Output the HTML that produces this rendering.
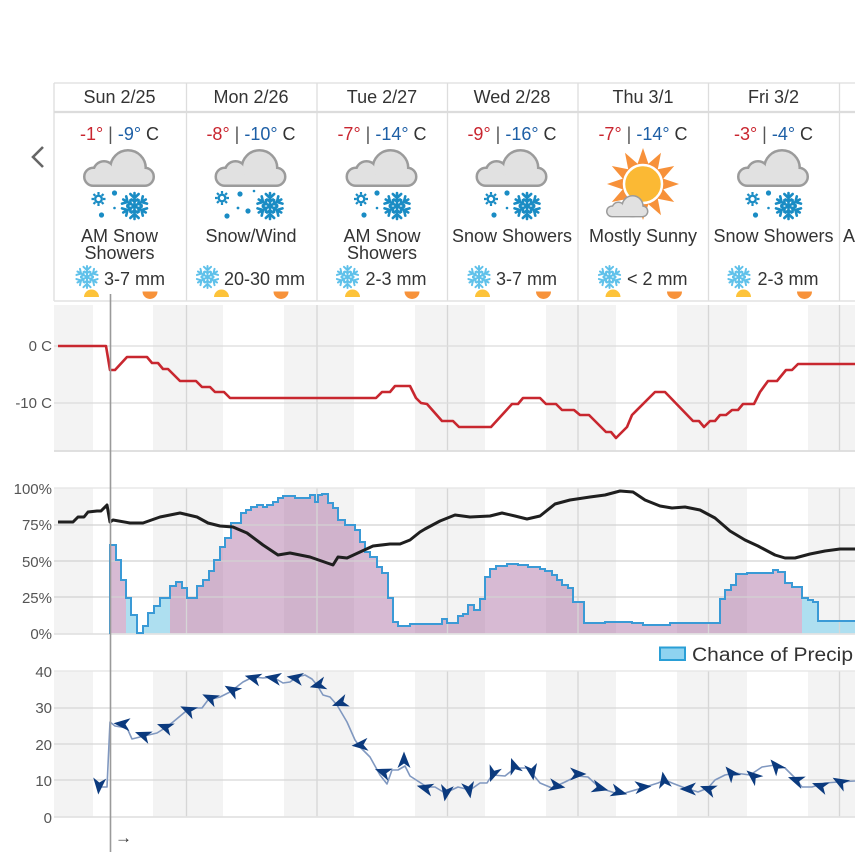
<!DOCTYPE html>
<html><head><meta charset="utf-8"><style>
html,body{margin:0;padding:0;background:#fff;}
svg{display:block;font-family:"Liberation Sans",Arial,sans-serif;}
</style></head><body>
<svg width="855" height="859" viewBox="0 0 855 859" xmlns="http://www.w3.org/2000/svg">
<defs>
<g id="cloud">
 <g stroke="#9b9b9b" stroke-width="5" fill="#9b9b9b">
  <rect x="2.5" y="20" width="67" height="15.5" rx="7.75"/>
  <circle cx="45" cy="19" r="16.5"/>
  <circle cx="21" cy="23" r="9.5"/>
 </g>
 <g fill="#e1e1e1">
  <rect x="2.5" y="20" width="67" height="15.5" rx="7.75"/>
  <circle cx="45" cy="19" r="16.5"/>
  <circle cx="21" cy="23" r="9.5"/>
 </g>
</g>
<g id="arm"><path d="M0,0 V-13 M-4.2,-12 L0,-8 L4.2,-12 M-3,-6.5 L0,-4.5 L3,-6.5" fill="none" stroke-linecap="round" stroke-linejoin="round"/></g>
<g id="sf">
 <use href="#arm"/>
 <use href="#arm" transform="rotate(60)"/>
 <use href="#arm" transform="rotate(120)"/>
 <use href="#arm" transform="rotate(180)"/>
 <use href="#arm" transform="rotate(240)"/>
 <use href="#arm" transform="rotate(300)"/>
</g>
<g id="gear" fill="none">
 <circle r="3.3" stroke-width="2.3"/>
 <path d="M0,-4.5V-7 M0,4.5V7 M-4.5,0H-7 M4.5,0H7 M3.2,3.2L5,5 M-3.2,3.2L-5,5 M3.2,-3.2L5,-5 M-3.2,-3.2L-5,-5" stroke-width="2.2"/>
</g>
<g id="snowicon">
 <use href="#gear" stroke="#1a8cc4" x="-21" y="-7"/>
 <circle cx="-5" cy="-13" r="2.6" fill="#1a8cc4"/>
 <circle cx="-5" cy="2" r="1.3" fill="#1a8cc4"/>
 <circle cx="-18" cy="9" r="2.6" fill="#1a8cc4"/>
 <use href="#sf" stroke="#1a8cc4" stroke-width="2.6" x="15" y="0"/>
</g>
<g id="mk"><path d="M8.5,0 L-8,-6.5 L-3.5,0 L-8,6.5 Z" fill="#0b3a7e"/></g>
<clipPath id="pclip"><path d="M110,634 V545 H116 V560 H121 V580 H126 V598 H131 V615 H137 V633 H143 V626 H148 V613 H154 V606 H160 V598 H170 V586 H176 V582 H182 V588 H187 V598 H197 V586 H203 V580 H209 V571 H214 V560 H220 V547 H225 V538 H231 V523 H241 V513 H246 V510 H251 V507 H257 V505 H263 V507 H267 V505 H273 V502 H278 V498 H283 V496 H295 V498 H310 V495 H315 V502 H318 V495 H322 V494 H328 V503 H333 V508 H338 V520 H345 V525 H355 V530 H360 V542 H365 V552 H370 V557 H377 V567 H382 V573 H388 V598 H393 V622 H398 V626 H410 V624 H442 V619 H447 V623 H458 V616 H463 V614 H468 V605 H474 V610 H480 V599 H485 V577 H490 V569 H496 V566 H507 V564 H518 V565 H528 V567 H540 V569 H545 V571 H552 V575 H557 V580 H562 V585 H568 V588 H573 V602 H584 V623 H605 V622 H632 V623 H643 V625 H670 V623 H720 V599 H725 V590 H731 V585 H736 V574 H747 V573 H773 V570 H778 V572 H785 V583 H792 V587 H802 V598 H808 V600 H813 V602 H818 V621 H855 V634 Z"/></clipPath>
</defs>

<!-- ===== Header table ===== -->
<g stroke="#dddddd" stroke-width="1.3">
 <line x1="54" y1="83" x2="855" y2="83"/>
 <line x1="54" y1="83" x2="54" y2="301"/>
 <line x1="186.5" y1="83" x2="186.5" y2="301"/>
 <line x1="317" y1="83" x2="317" y2="301"/>
 <line x1="447.5" y1="83" x2="447.5" y2="301"/>
 <line x1="578" y1="83" x2="578" y2="301"/>
 <line x1="708.5" y1="83" x2="708.5" y2="301"/>
 <line x1="839.5" y1="83" x2="839.5" y2="301"/>
</g>
<line x1="54" y1="112" x2="855" y2="112" stroke="#dcdcdc" stroke-width="2.2"/>
<line x1="54" y1="301" x2="855" y2="301" stroke="#e2e2e2" stroke-width="1.6"/>
<polyline points="43,147 33,157 43,167" fill="none" stroke="#666" stroke-width="2.6"/>

<g font-size="18" fill="#333" text-anchor="middle">
 <text x="119.5" y="103">Sun 2/25</text>
 <text x="251" y="103">Mon 2/26</text>
 <text x="382" y="103">Tue 2/27</text>
 <text x="512" y="103">Wed 2/28</text>
 <text x="643" y="103">Thu 3/1</text>
 <text x="773.5" y="103">Fri 3/2</text>

 <text x="119.5" y="140"><tspan fill="#c9252f">-1°</tspan><tspan fill="#555"> | </tspan><tspan fill="#1d5fa6">-9°</tspan><tspan fill="#333"> C</tspan></text>
 <text x="251" y="140"><tspan fill="#c9252f">-8°</tspan><tspan fill="#555"> | </tspan><tspan fill="#1d5fa6">-10°</tspan><tspan fill="#333"> C</tspan></text>
 <text x="382" y="140"><tspan fill="#c9252f">-7°</tspan><tspan fill="#555"> | </tspan><tspan fill="#1d5fa6">-14°</tspan><tspan fill="#333"> C</tspan></text>
 <text x="512" y="140"><tspan fill="#c9252f">-9°</tspan><tspan fill="#555"> | </tspan><tspan fill="#1d5fa6">-16°</tspan><tspan fill="#333"> C</tspan></text>
 <text x="643" y="140"><tspan fill="#c9252f">-7°</tspan><tspan fill="#555"> | </tspan><tspan fill="#1d5fa6">-14°</tspan><tspan fill="#333"> C</tspan></text>
 <text x="773.5" y="140"><tspan fill="#c9252f">-3°</tspan><tspan fill="#555"> | </tspan><tspan fill="#1d5fa6">-4°</tspan><tspan fill="#333"> C</tspan></text>

 <text x="119.5" y="242">AM Snow</text>
 <text x="119.5" y="259">Showers</text>
 <text x="251" y="242">Snow/Wind</text>
 <text x="382" y="242">AM Snow</text>
 <text x="382" y="259">Showers</text>
 <text x="512" y="242">Snow Showers</text>
 <text x="643" y="242">Mostly Sunny</text>
 <text x="773.5" y="242">Snow Showers</text>
</g>
<text x="843" y="242" font-size="18" fill="#333">AM Snow Showers</text>

<!-- weather icons -->
<use href="#cloud" x="83" y="149"/>
<use href="#snowicon" x="119.5" y="206"/>

<use href="#cloud" x="214.5" y="149"/>
<g>
 <use href="#gear" stroke="#1a8cc4" x="222" y="198"/>
 <circle cx="240" cy="194" r="2.6" fill="#1a8cc4"/>
 <circle cx="254" cy="191" r="1.3" fill="#1a8cc4"/>
 <circle cx="248" cy="211" r="2.6" fill="#1a8cc4"/>
 <circle cx="238" cy="208" r="1.4" fill="#1a8cc4"/>
 <circle cx="227" cy="216" r="2.6" fill="#1a8cc4"/>
 <use href="#sf" stroke="#1a8cc4" stroke-width="2.6" x="270" y="206"/>
</g>

<use href="#cloud" x="345.5" y="149"/>
<use href="#snowicon" x="382" y="206"/>

<use href="#cloud" x="475.5" y="149"/>
<use href="#snowicon" x="512" y="206"/>

<!-- sun icon -->
<g transform="translate(643,184)">
 <polygon fill="#f7913a" points="0,-36 5.4,-20.3 18,-31.2 14.8,-14.8 31.2,-18 20.3,-5.4 36,0 20.3,5.4 31.2,18 14.8,14.8 18,31.2 5.4,20.3 0,36 -5.4,20.3 -18,31.2 -14.8,14.8 -31.2,18 -20.3,5.4 -36,0 -20.3,-5.4 -31.2,-18 -14.8,-14.8 -18,-31.2 -5.4,-20.3"/>
 <circle r="19" fill="#fbb934" stroke="#fff" stroke-width="2.5"/>
</g>
<use href="#cloud" transform="translate(606,195) scale(0.59)"/>

<use href="#cloud" x="737" y="149"/>
<use href="#snowicon" x="773.5" y="206"/>

<!-- precip amounts -->
<g stroke="#5fc1ea" stroke-width="2.3">
 <use href="#sf" transform="translate(87,277) scale(0.85)"/>
 <use href="#sf" transform="translate(207.5,277) scale(0.85)"/>
 <use href="#sf" transform="translate(347.5,277) scale(0.85)"/>
 <use href="#sf" transform="translate(479,277) scale(0.85)"/>
 <use href="#sf" transform="translate(609.5,277) scale(0.85)"/>
 <use href="#sf" transform="translate(739,277) scale(0.85)"/>
</g>
<g font-size="18" fill="#333">
 <text x="104" y="285">3-7 mm</text>
 <text x="224" y="285">20-30 mm</text>
 <text x="365.5" y="285">2-3 mm</text>
 <text x="496" y="285">3-7 mm</text>
 <text x="627" y="285">&lt; 2 mm</text>
 <text x="757.5" y="285">2-3 mm</text>
</g>

<!-- sunrise / sunset -->
<g fill="#fdc33a">
 <path d="M84,297 A7.5,7.5 0 0 1 99,297 Z"/>
 <path d="M214,297 A7.5,7.5 0 0 1 229,297 Z"/>
 <path d="M345,297 A7.5,7.5 0 0 1 360,297 Z"/>
 <path d="M475,297 A7.5,7.5 0 0 1 490,297 Z"/>
 <path d="M605.5,297 A7.5,7.5 0 0 1 620.5,297 Z"/>
 <path d="M736,297 A7.5,7.5 0 0 1 751,297 Z"/>
</g>
<g fill="#f7923a">
 <path d="M142.5,291.5 A7.5,7.5 0 0 0 157.5,291.5 Z"/>
 <path d="M273.5,291.5 A7.5,7.5 0 0 0 288.5,291.5 Z"/>
 <path d="M404.5,291.5 A7.5,7.5 0 0 0 419.5,291.5 Z"/>
 <path d="M536,291.5 A7.5,7.5 0 0 0 551,291.5 Z"/>
 <path d="M667,291.5 A7.5,7.5 0 0 0 682,291.5 Z"/>
 <path d="M797,291.5 A7.5,7.5 0 0 0 812,291.5 Z"/>
</g>

<!-- ===== Temperature chart ===== -->
<g fill="#f3f3f3">
 <rect x="54" y="305" width="39" height="146"/>
 <rect x="153" y="305" width="70" height="146"/>
 <rect x="284" y="305" width="70" height="146"/>
 <rect x="415" y="305" width="70" height="146"/>
 <rect x="546" y="305" width="70" height="146"/>
 <rect x="677" y="305" width="70" height="146"/>
 <rect x="808" y="305" width="47" height="146"/>
</g>
<g stroke="#d6d6d6" stroke-width="1.3">
 <line x1="186.5" y1="305" x2="186.5" y2="451"/>
 <line x1="317" y1="305" x2="317" y2="451"/>
 <line x1="447.5" y1="305" x2="447.5" y2="451"/>
 <line x1="578" y1="305" x2="578" y2="451"/>
 <line x1="708.5" y1="305" x2="708.5" y2="451"/>
 <line x1="839.5" y1="305" x2="839.5" y2="451"/>
</g>
<g stroke="#dcdcdc" stroke-width="1.3">
 <line x1="54" y1="346" x2="855" y2="346"/>
 <line x1="54" y1="403" x2="855" y2="403"/>
 <line x1="54" y1="451" x2="855" y2="451" stroke-width="1.8"/>
</g>
<g font-size="15" fill="#555" text-anchor="end">
 <text x="52" y="351">0 C</text>
 <text x="52" y="408">-10 C</text>
</g>
<polyline fill="none" stroke="#c8272f" stroke-width="2.6" stroke-linejoin="round"
 points="58,346 106,346 110,370 115,370 127,357 147,357 152,363 158,363 163,369 168,369 180,381 196,381 202,387 210,387 215,392 224,392 230,398 376,398 382,392 390,392 395,386 410,386 416,398 421,403 427,404 442,421 453,421 459,427 491,427 512,404 518,404 523,398 540,398 546,404 556,404 562,410 574,410 580,415 589,415 606,432 611,432 616,438 627,427 632,415 655,392 665,392 693,421 699,421 704,427 710,421 715,421 720,415 726,415 732,410 738,410 743,404 754,404 760,392 768,381 777,381 786,370 792,370 798,364 855,364"/>

<!-- ===== Precip / humidity chart ===== -->
<g fill="#f3f3f3">
 <rect x="54" y="488" width="39" height="146"/>
 <rect x="153" y="488" width="70" height="146"/>
 <rect x="284" y="488" width="70" height="146"/>
 <rect x="415" y="488" width="70" height="146"/>
 <rect x="546" y="488" width="70" height="146"/>
 <rect x="677" y="488" width="70" height="146"/>
 <rect x="808" y="488" width="47" height="146"/>
</g>
<g clip-path="url(#pclip)">
 <rect x="110" y="480" width="745" height="160" fill="rgba(160,90,150,0.42)"/>
 <rect x="126" y="480" width="44" height="160" fill="#aedff0"/>
 <rect x="802" y="480" width="53" height="160" fill="#aedff0"/>
</g>
<g stroke="#d6d6d6" stroke-width="1.3">
 <line x1="186.5" y1="488" x2="186.5" y2="634"/>
 <line x1="317" y1="488" x2="317" y2="634"/>
 <line x1="447.5" y1="488" x2="447.5" y2="634"/>
 <line x1="578" y1="488" x2="578" y2="634"/>
 <line x1="708.5" y1="488" x2="708.5" y2="634"/>
 <line x1="839.5" y1="488" x2="839.5" y2="634"/>
</g>
<g stroke="#d2d2d2" stroke-width="1.3">
 <line x1="54" y1="488" x2="855" y2="488" stroke="#e4e4e4"/>
 <line x1="54" y1="525" x2="855" y2="525"/>
 <line x1="54" y1="561" x2="855" y2="561"/>
 <line x1="54" y1="597" x2="855" y2="597"/>
 <line x1="54" y1="634" x2="855" y2="634" stroke="#e2e2e2" stroke-width="1.8"/>
</g>
<g font-size="15" fill="#555" text-anchor="end">
 <text x="52" y="494">100%</text>
 <text x="52" y="530">75%</text>
 <text x="52" y="567">50%</text>
 <text x="52" y="603">25%</text>
 <text x="52" y="639">0%</text>
</g>
<path fill="none" stroke="#3a9ad6" stroke-width="2" d="M110,634 V545 H116 V560 H121 V580 H126 V598 H131 V615 H137 V633 H143 V626 H148 V613 H154 V606 H160 V598 H170 V586 H176 V582 H182 V588 H187 V598 H197 V586 H203 V580 H209 V571 H214 V560 H220 V547 H225 V538 H231 V523 H241 V513 H246 V510 H251 V507 H257 V505 H263 V507 H267 V505 H273 V502 H278 V498 H283 V496 H295 V498 H310 V495 H315 V502 H318 V495 H322 V494 H328 V503 H333 V508 H338 V520 H345 V525 H355 V530 H360 V542 H365 V552 H370 V557 H377 V567 H382 V573 H388 V598 H393 V622 H398 V626 H410 V624 H442 V619 H447 V623 H458 V616 H463 V614 H468 V605 H474 V610 H480 V599 H485 V577 H490 V569 H496 V566 H507 V564 H518 V565 H528 V567 H540 V569 H545 V571 H552 V575 H557 V580 H562 V585 H568 V588 H573 V602 H584 V623 H605 V622 H632 V623 H643 V625 H670 V623 H720 V599 H725 V590 H731 V585 H736 V574 H747 V573 H773 V570 H778 V572 H785 V583 H792 V587 H802 V598 H808 V600 H813 V602 H818 V621 H855"/>
<polyline fill="none" stroke="#1f1f1f" stroke-width="3" stroke-linejoin="round"
 points="58,522 73,522 78,517 84,517 88,512 97,511 101,511 107,505 110,522 113,520 130,523 143,523 160,517 180,513 197,517 208,523 220,526 233,527 247,533 263,545 278,555 290,553 310,557 333,565 338,557 347,558 360,552 373,546 390,544 400,544 410,540 420,532 425,529 440,521 455,515 470,517 490,516 502,513 515,516 527,519 540,516 555,504 570,500 590,497 605,495 620,491 633,492 645,500 660,506 672,508 685,507 700,510 715,518 730,531 745,540 758,546 775,555 785,558 795,558 810,554 825,551 840,549 855,549"/>

<!-- legend -->
<rect x="660" y="647.5" width="25" height="12.5" fill="#8fd3f0" stroke="#2a9fd6" stroke-width="2"/>
<text x="692" y="661" font-size="19" fill="#333" textLength="161" lengthAdjust="spacingAndGlyphs">Chance of Precip</text>

<!-- ===== Wind chart ===== -->
<g fill="#f3f3f3">
 <rect x="54" y="671" width="39" height="146"/>
 <rect x="153" y="671" width="70" height="146"/>
 <rect x="284" y="671" width="70" height="146"/>
 <rect x="415" y="671" width="70" height="146"/>
 <rect x="546" y="671" width="70" height="146"/>
 <rect x="677" y="671" width="70" height="146"/>
 <rect x="808" y="671" width="47" height="146"/>
</g>
<g stroke="#d6d6d6" stroke-width="1.3">
 <line x1="186.5" y1="671" x2="186.5" y2="817"/>
 <line x1="317" y1="671" x2="317" y2="817"/>
 <line x1="447.5" y1="671" x2="447.5" y2="817"/>
 <line x1="578" y1="671" x2="578" y2="817"/>
 <line x1="708.5" y1="671" x2="708.5" y2="817"/>
 <line x1="839.5" y1="671" x2="839.5" y2="817"/>
</g>
<g stroke="#d6d6d6" stroke-width="1.3">
 <line x1="54" y1="671" x2="855" y2="671" stroke="#e4e4e4"/>
 <line x1="54" y1="708" x2="855" y2="708"/>
 <line x1="54" y1="744" x2="855" y2="744"/>
 <line x1="54" y1="780" x2="855" y2="780"/>
 <line x1="54" y1="817" x2="855" y2="817" stroke="#e2e2e2" stroke-width="1.8"/>
</g>
<g font-size="15" fill="#555" text-anchor="end">
 <text x="52" y="677">40</text>
 <text x="52" y="713">30</text>
 <text x="52" y="750">20</text>
 <text x="52" y="786">10</text>
 <text x="52" y="823">0</text>
</g>
<polyline fill="none" stroke="#8098c0" stroke-width="1.6" stroke-linejoin="round"
 points="99,787 107,787 110,722 115,726 127,728 132,739 140,737 157,733 165,728 173,722 185,712 192,708 202,708 208,700 220,697 230,692 243,682 253,677 263,678 273,677 283,683 290,682 297,677 305,675 312,679 317,685 323,695 330,697 337,705 347,722 355,740 360,747 370,757 380,775 387,784 392,770 398,770 405,766 410,776 427,787 435,787 445,793 458,787 470,790 480,783 487,783 492,775 505,776 515,768 528,768 535,777 540,783 552,788 565,782 577,776 588,777 600,788 615,793 625,793 642,788 658,783 665,780 672,783 685,788 698,792 708,788 715,780 725,775 735,773 750,775 762,767 775,765 785,768 795,778 802,787 812,787 825,783 838,782 855,781"/>
<g>
 <use href="#mk" transform="translate(99,786) rotate(95)"/>
 <use href="#mk" transform="translate(122,724) rotate(185)"/>
 <use href="#mk" transform="translate(143,735) rotate(200)"/>
 <use href="#mk" transform="translate(165,727) rotate(200)"/>
 <use href="#mk" transform="translate(188,710) rotate(205)"/>
 <use href="#mk" transform="translate(210,698) rotate(205)"/>
 <use href="#mk" transform="translate(232,690) rotate(210)"/>
 <use href="#mk" transform="translate(253,678) rotate(195)"/>
 <use href="#mk" transform="translate(273,678) rotate(190)"/>
 <use href="#mk" transform="translate(295,678) rotate(190)"/>
 <use href="#mk" transform="translate(318,685) rotate(165)"/>
 <use href="#mk" transform="translate(340,703) rotate(160)"/>
 <use href="#mk" transform="translate(360,745) rotate(175)"/>
 <use href="#mk" transform="translate(383,772) rotate(200)"/>
 <use href="#mk" transform="translate(404,760) rotate(270)"/>
 <use href="#mk" transform="translate(425,788) rotate(195)"/>
 <use href="#mk" transform="translate(446,793) rotate(100)"/>
 <use href="#mk" transform="translate(469,790) rotate(80)"/>
 <use href="#mk" transform="translate(493,774) rotate(110)"/>
 <use href="#mk" transform="translate(514,766) rotate(250)"/>
 <use href="#mk" transform="translate(532,772) rotate(80)"/>
 <use href="#mk" transform="translate(557,786) rotate(10)"/>
 <use href="#mk" transform="translate(578,774) rotate(0)"/>
 <use href="#mk" transform="translate(600,788) rotate(15)"/>
 <use href="#mk" transform="translate(619,792) rotate(15)"/>
 <use href="#mk" transform="translate(643,787) rotate(-5)"/>
 <use href="#mk" transform="translate(664,780) rotate(260)"/>
 <use href="#mk" transform="translate(688,789) rotate(180)"/>
 <use href="#mk" transform="translate(708,789) rotate(200)"/>
 <use href="#mk" transform="translate(731,773) rotate(230)"/>
 <use href="#mk" transform="translate(753,776) rotate(220)"/>
 <use href="#mk" transform="translate(776,766) rotate(230)"/>
 <use href="#mk" transform="translate(796,780) rotate(200)"/>
 <use href="#mk" transform="translate(820,786) rotate(200)"/>
 <use href="#mk" transform="translate(840,782) rotate(210)"/>
</g>

<!-- current time line and arrow -->
<line x1="110.5" y1="294" x2="110.5" y2="852" stroke="#9a9a9a" stroke-width="1.6"/>
<text x="115" y="843" font-size="17" fill="#333">→</text>
</svg>
</body></html>
